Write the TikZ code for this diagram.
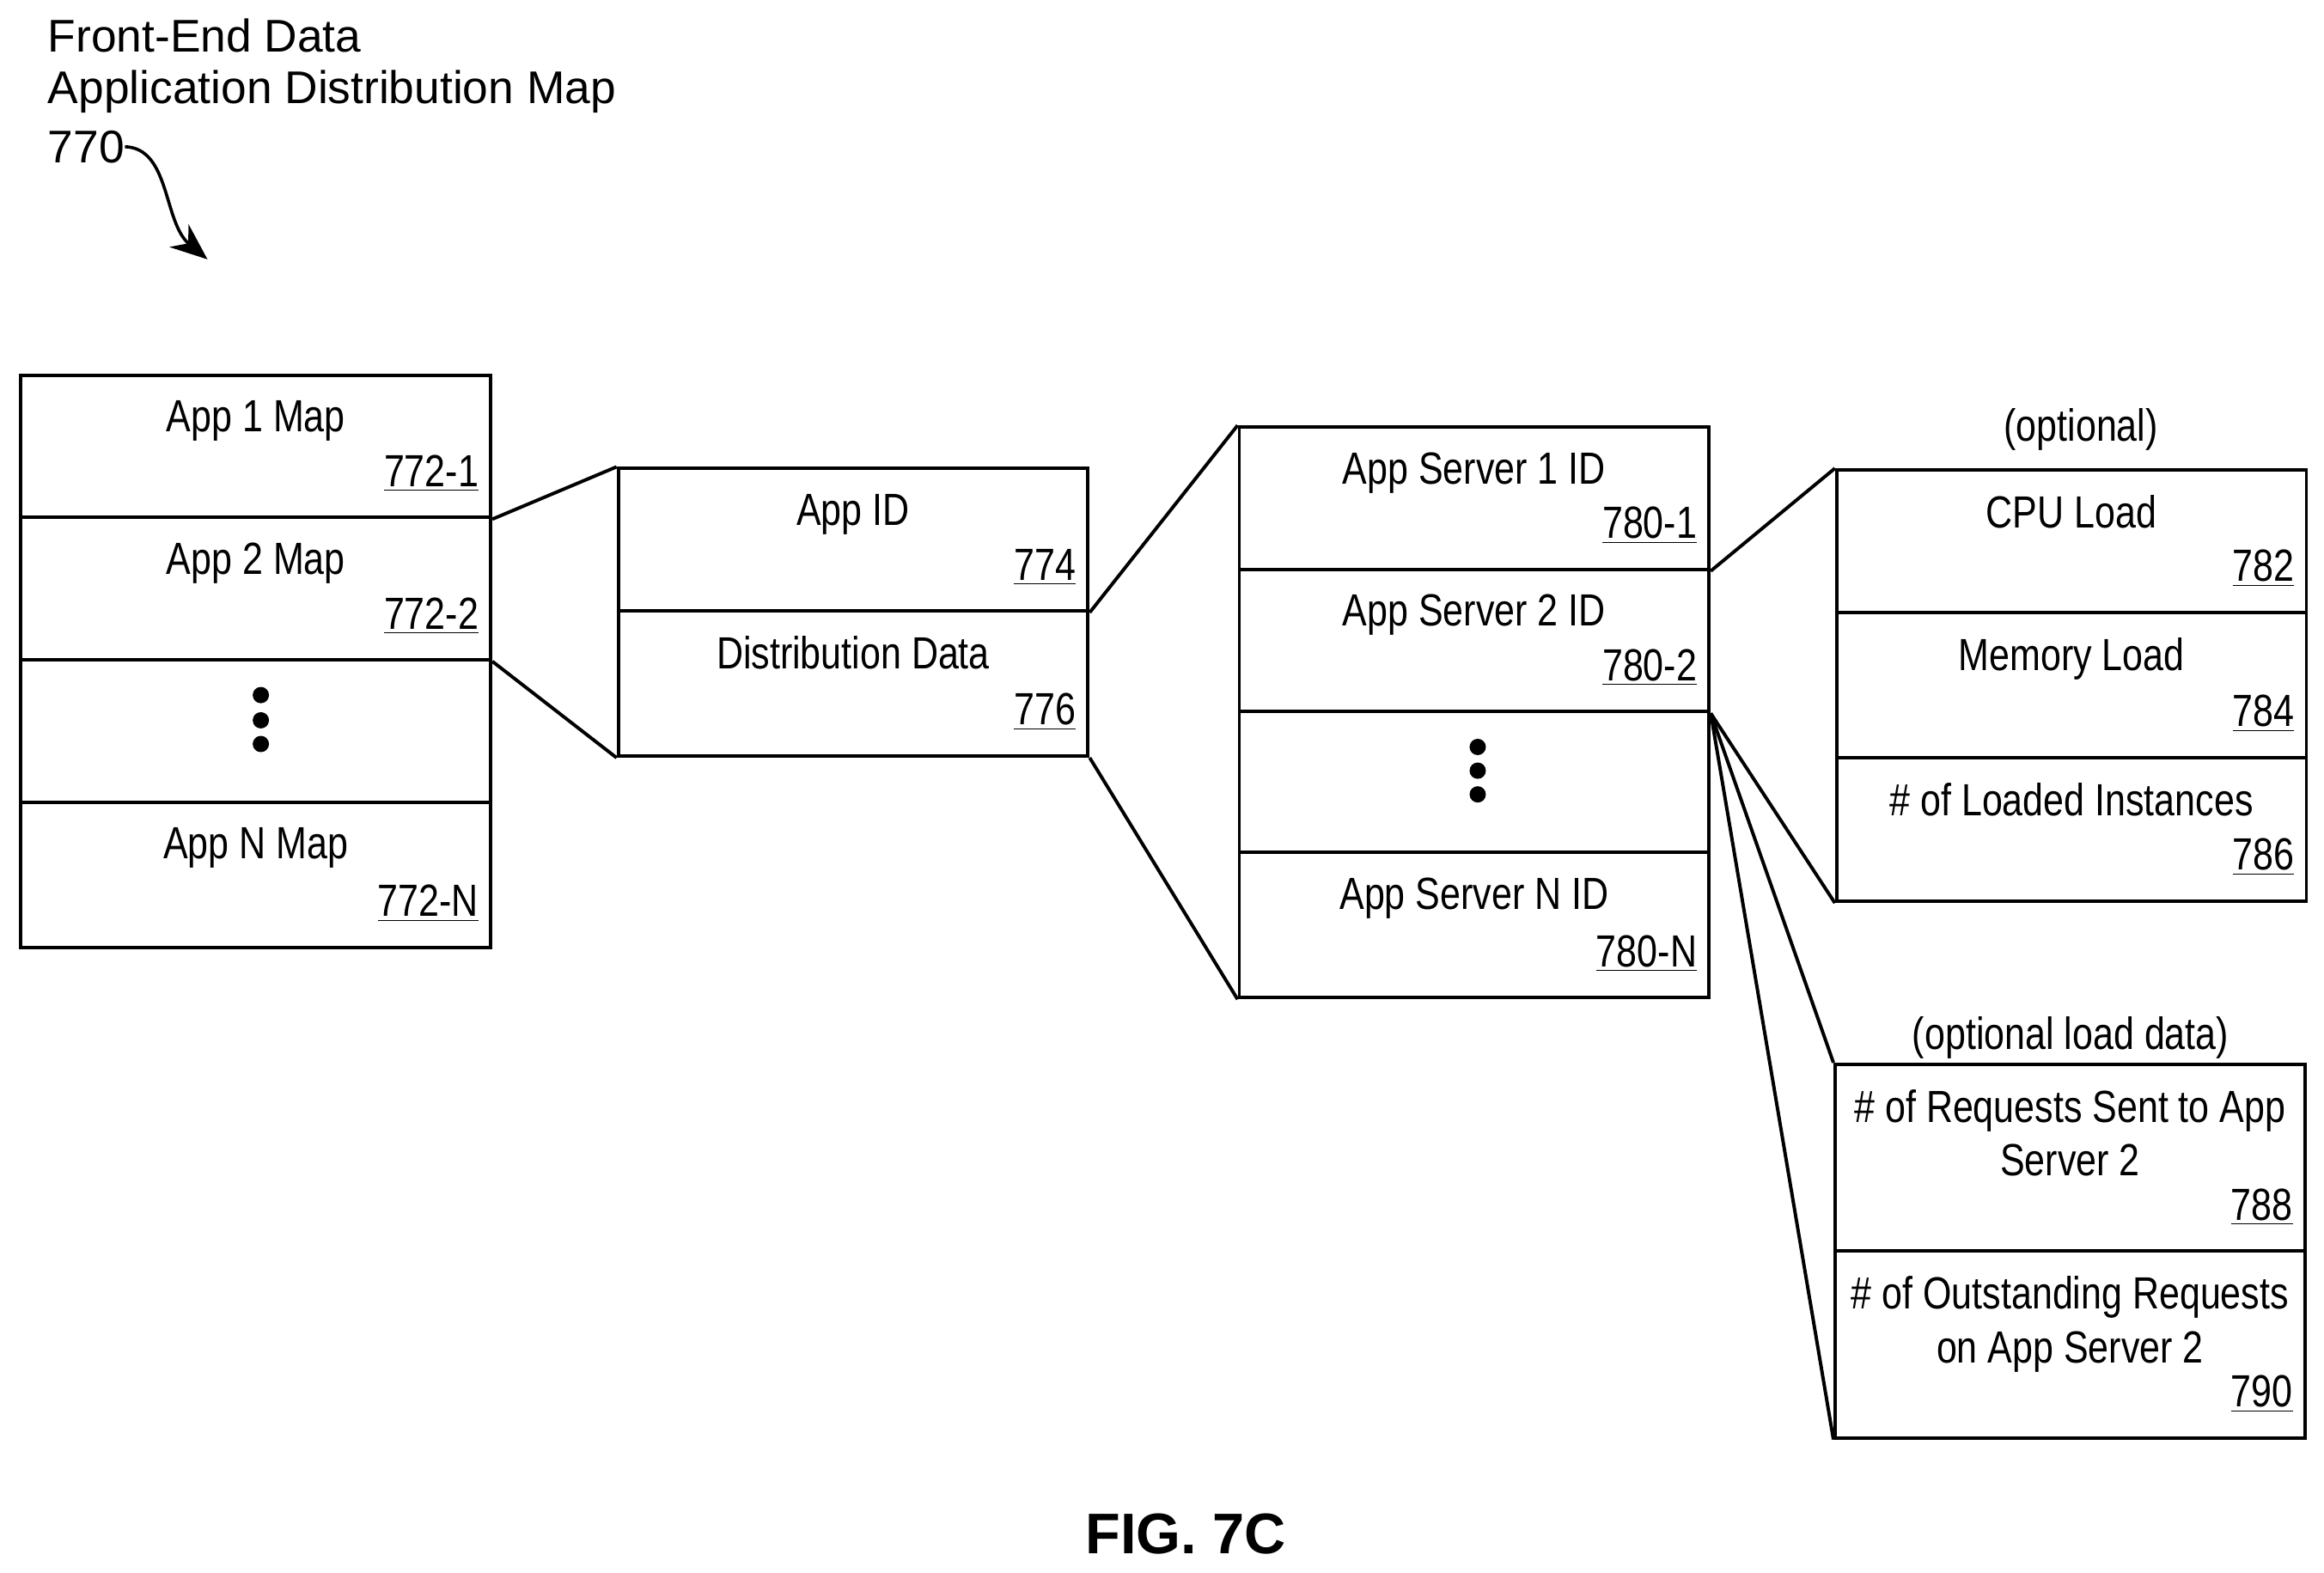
\documentclass[tikz,border=0pt]{standalone}
\usepackage{fontspec}
\setmainfont{Liberation Sans}[FakeStretch=0.82]
\newfontfamily\figfont{Liberation Sans}
\usetikzlibrary{positioning,arrows.meta}
\tikzset{
  cell/.style={draw, line width=1.3pt, minimum width=6.34cm, inner sep=0pt},
  txt/.style={anchor=north, inner sep=0pt, align=center, font=\fontsize{17.3}{20.5}\selectfont},
  num/.style={anchor=south east, inner sep=0pt, font=\fontsize{17.3}{20.5}\selectfont},
  link/.style={line width=1.3pt},
  dot/.style={circle, fill, inner sep=0pt, minimum size=0.22cm}
}
% cell: name, left x, top y, bottom y, text, number
\newcommand{\cellbox}[6]{%
  \node[cell, minimum height={(#4-#3)*0.02cm}, anchor=north west] (#1) at (#2,#3) {};
  \node[txt] (#1-t) at ([yshift=-0.36cm]#1.north) {#5};
  \node[num] (#1-n) at ([xshift=-0.18cm,yshift=0.36cm]#1.south east) {\underline{#6}};}
\begin{document}
\begin{tikzpicture}[x=0.02cm, y=-0.02cm]
\useasboundingbox (0,0) rectangle (1568,1061);

% title
\node[anchor=west, inner sep=0pt, font=\fontsize{17.6}{21}\selectfont\figfont] (t1) at (32,24) {Front-End Data};
\node[anchor=west, inner sep=0pt, font=\fontsize{17.6}{21}\selectfont\figfont] (t2) at (32,62) {Application Distribution Map};
\node[anchor=west, inner sep=0pt, font=\fontsize{17.6}{21}\selectfont\figfont] (t3) at (32,99) {770};
\coordinate (tip) at (140,175);
\draw[line width=1.2pt, -{Stealth[length=0.5cm,width=0.4cm]}] (t3.east) .. controls (115,100) and (110,150) .. (tip);

% app maps
\cellbox{m1}{13}{252}{348}{App 1 Map}{772-1}
\cellbox{m2}{13}{348}{444}{App 2 Map}{772-2}
\cellbox{m3}{13}{444}{540}{}{}
\cellbox{m4}{13}{540}{638}{App N Map}{772-N}
\node[dot] (d1) at (176,469) {};
\node[dot] (d2) at (176,486) {};
\node[dot] (d3) at (176,502) {};

% app map contents
\cellbox{a1}{416}{315}{411}{App ID}{774}
\cellbox{a2}{416}{411}{509}{Distribution Data}{776}

% servers
\cellbox{s1}{835}{287}{383}{App Server 1 ID}{780-1}
\cellbox{s2}{835}{383}{479}{App Server 2 ID}{780-2}
\cellbox{s3}{835}{479}{574}{}{}
\cellbox{s4}{835}{574}{672}{App Server N ID}{780-N}
\node[dot] (e1) at (997,504) {};
\node[dot] (e2) at (997,520) {};
\node[dot] (e3) at (997,536) {};

% optional
\node[txt, anchor=center] (o1) at (1404,290) {(optional)};
\cellbox{c1}{1238}{316}{412}{CPU Load}{782}
\cellbox{c2}{1238}{412}{510}{Memory Load}{784}
\cellbox{c3}{1238}{510}{607}{\# of Loaded Instances}{786}

\node[txt, anchor=center] (o2) at (1397,700) {(optional load data)};
\cellbox{r1}{1237}{717}{843}{\# of Requests Sent to App\\Server 2}{788}
\cellbox{r2}{1237}{843}{969}{\# of Outstanding Requests\\on App Server 2}{790}

% connectors
\draw[link] (m1.south east) -- (a1.north west);
\draw[link] (m2.south east) -- (a2.south west);
\draw[link] (a1.south east) -- (s1.north west);
\draw[link] (a2.south east) -- (s4.south west);
\draw[link] (s1.south east) -- (c1.north west);
\draw[link] (s2.south east) -- (c3.south west);
\draw[link] (s2.south east) -- (r1.north west);
\draw[link] (s2.south east) -- (r2.south west);

\node[font=\fontsize{22}{26}\selectfont\figfont\bfseries] (fig) at (800,1035) {FIG. 7C};
\end{tikzpicture}
\end{document}
